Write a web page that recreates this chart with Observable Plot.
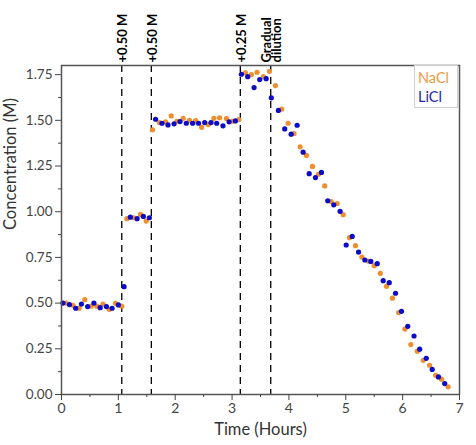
<!DOCTYPE html>
<html>
<head>
<meta charset="utf-8">
<script src="https://cdn.jsdelivr.net/npm/d3@7"></script>
<script src="https://cdn.jsdelivr.net/npm/@observablehq/plot@0.6"></script>
<style>
  body { margin: 0; background: #fff; }
  #wrap { position: relative; width: 476px; height: 445px; font-family: Lato, "DejaVu Sans", sans-serif; }
  #legend { position: absolute; left: 414px; top: 65px; width: 44px; height: 43px; border: 1px solid #cfcfcf; background: #fff; box-sizing: border-box; font-size: 14.5px; line-height: 19px; padding: 2px 0 0 3px; }
</style>
</head>
<body>
<div id="wrap"><div id="legend"><div style="color:#EE9A40">NaCl</div><div style="color:#2626A8">LiCl</div></div></div>
<script>
const naclTime = [0.08,0.20,0.31,0.41,0.52,0.62,0.73,0.84,0.95,1.06,
  1.15,1.27,1.39,1.49,
  1.60,1.72,1.83,1.93,2.03,2.14,2.25,2.36,2.465,2.58,2.68,2.78,2.90,3.005,3.12,
  3.234,3.34,3.44,3.55,3.657,3.762,3.873,
  3.986,4.09,4.197,4.308,4.414,4.52,4.63,4.743,4.849,4.954,5.065,5.17,5.282,5.394,5.50,5.606,5.716,5.82,5.93,6.04,6.144,6.257,6.362,6.473,6.58,6.685,6.80];
const naclConc = [0.50,0.488,0.472,0.519,0.483,0.483,0.495,0.466,0.499,0.483,
  0.962,0.967,0.985,0.949,
  1.448,1.488,1.492,1.524,1.495,1.511,1.50,1.499,1.462,1.477,1.511,1.514,1.51,1.495,1.504,
  1.76,1.75,1.763,1.739,1.768,1.69,1.561,
  1.484,1.428,1.355,1.308,1.248,1.205,1.141,1.056,1.045,0.984,0.858,0.814,0.752,0.73,0.705,0.663,0.592,0.527,0.448,0.358,0.273,0.237,0.187,0.16,0.105,0.084,0.042];
const liclTime = [0.025,0.14,0.25,0.35,0.46,0.57,0.68,0.79,0.89,1.00,1.10,
  1.21,1.33,1.44,1.545,
  1.655,1.767,1.873,1.98,2.084,2.195,2.306,2.41,2.518,2.63,2.73,2.84,2.947,3.058,
  3.164,3.275,3.387,3.486,3.60,3.69,3.815,
  3.926,4.039,4.144,4.25,4.356,4.467,4.572,4.683,4.789,4.90,5.007,5.113,5.224,5.335,5.44,5.553,5.658,5.764,5.875,5.98,6.09,6.20,6.30,6.415,6.52,6.63,6.74];
const liclConc = [0.50,0.492,0.472,0.495,0.481,0.50,0.475,0.481,0.472,0.49,0.59,
  0.97,0.962,0.974,0.967,
  1.506,1.484,1.475,1.481,1.493,1.484,1.484,1.484,1.488,1.488,1.484,1.47,1.492,1.497,
  1.752,1.739,1.679,1.723,1.728,1.623,1.554,
  1.453,1.424,1.473,1.326,1.208,1.187,1.215,1.06,1.038,1.002,0.818,0.865,0.779,0.736,0.728,0.716,0.623,0.612,0.554,0.455,0.373,0.32,0.248,0.198,0.137,0.096,0.06];
const eventTimes = [1.06, 1.58, 3.145, 3.68];
const eventLabels = ["+0.50 M", "+0.50 M", "+0.25 M", "Gradual\ndilution"];
const xTicks = [0,1,2,3,4,5,6,7];
const xMinor = [0.5,1.5,2.5,3.5,4.5,5.5,6.5];
const yTicks = [0,0.25,0.5,0.75,1.0,1.25,1.5,1.75];
const yMinor = [0.125,0.375,0.625,0.875,1.125,1.375,1.625];

const nacl = naclTime.map((t,i) => ({t, c: naclConc[i]}));
const licl = liclTime.map((t,i) => ({t, c: liclConc[i]}));
const events = eventTimes.map((t,i) => ({t, label: eventLabels[i]}));

const chart = Plot.plot({
  width: 476, height: 445,
  marginLeft: 61, marginRight: 17, marginTop: 65, marginBottom: 51,
  style: {fontFamily: "Lato, 'DejaVu Sans', sans-serif", color: "#333", background: "transparent"},
  x: {domain: [0, 7]},
  y: {domain: [0, 1.8]},
  marks: [
    Plot.ruleX(events, {x: "t", stroke: "#000", strokeWidth: 1.3, strokeDasharray: "7,5"}),
    Plot.dot(nacl, {x: "t", y: "c", r: 2.6, fill: "#EE8E2E", stroke: "none"}),
    Plot.dot(licl, {x: "t", y: "c", r: 2.6, fill: "#0B0BC8", stroke: "none"}),
    Plot.frame({stroke: "#555", strokeWidth: 1.5}),
    Plot.axisX(xTicks, {tickSize: 6, tickPadding: 3, fontSize: 14, color: "#444", label: null, tickFormat: d => String(d)}),
    Plot.axisX(xMinor, {tickSize: 3, color: "#444", label: null, tickFormat: () => ""}),
    Plot.axisY(yTicks, {tickSize: 6, tickPadding: 3, fontSize: 13.5, color: "#444", label: null, tickFormat: d3.format(".2f")}),
    Plot.axisY(yMinor, {tickSize: 3, color: "#444", label: null, tickFormat: () => ""}),
    Plot.text(events, {x: "t", text: "label", frameAnchor: "top", dy: -3, dx: 2, rotate: -90, textAnchor: "start", lineAnchor: "middle", fontWeight: "bold", fontSize: 13, fill: "#000", lineHeight: 0.8}),
    Plot.text(["Time (Hours)"], {frameAnchor: "bottom", dy: 40, fontSize: 16.5, fill: "#333", text: d => d}),
    Plot.text(["Concentration (M)"], {frameAnchor: "left", dx: -51, rotate: -90, fontSize: 16.5, fill: "#333", text: d => d})
  ]
});
chart.style.position = "absolute";
chart.style.left = "0";
chart.style.top = "0";
const wrap = document.getElementById("wrap");
wrap.insertBefore(chart, wrap.firstChild);
</script>
</body>
</html>
